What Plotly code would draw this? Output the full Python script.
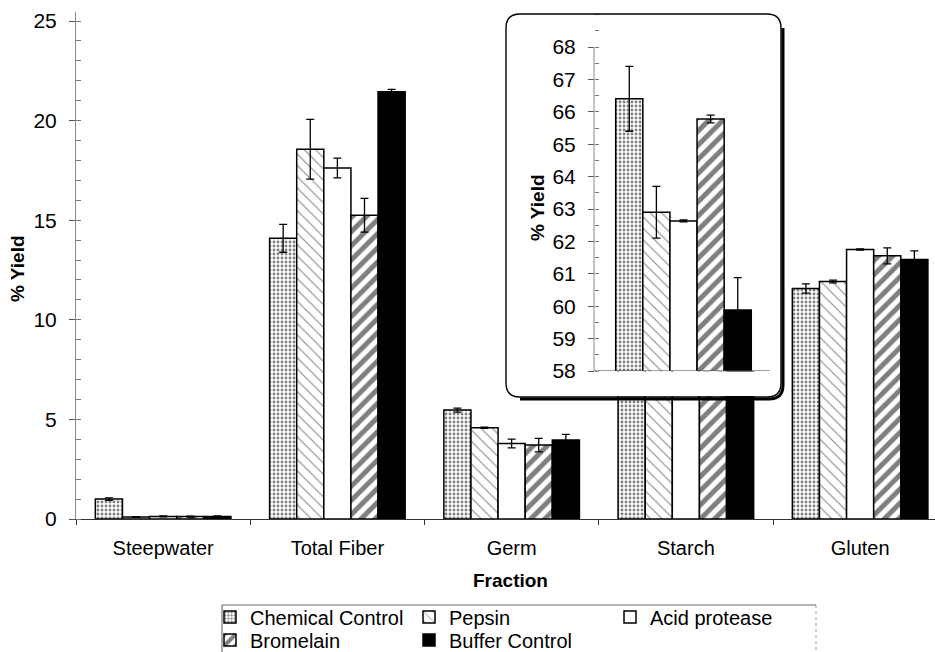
import plotly.graph_objects as go

# ---- data: % yield by fraction and treatment (mean and SD) ----
categories = ["Steepwater", "Total Fiber", "Germ", "Starch", "Gluten"]

chemical_control = [1.00, 14.09, 5.47, 66.40, 11.57]
chemical_control_sd = [0.06, 0.70, 0.10, 1.00, 0.23]

pepsin = [0.10, 18.56, 4.58, 62.90, 11.92]
pepsin_sd = [0.02, 1.50, 0.03, 0.80, 0.07]

acid_protease = [0.13, 17.62, 3.79, 62.63, 13.53]
acid_protease_sd = [0.02, 0.50, 0.22, 0.03, 0.03]

bromelain = [0.12, 15.25, 3.71, 65.78, 13.21]
bromelain_sd = [0.02, 0.85, 0.34, 0.12, 0.40]

buffer_control = [0.13, 21.45, 3.97, 59.88, 13.03]
buffer_control_sd = [0.02, 0.12, 0.28, 1.00, 0.43]

main_ticks = [0, 5, 10, 15, 20, 25]
inset_ticks = [58, 59, 60, 61, 62, 63, 64, 65, 66, 67, 68]

# ---- page geometry ----
W, H = 935, 652
L, R, T, B = 76, 0, 12, 133
FONT = "Arial, Liberation Sans, sans-serif"
MAIN_PX_PER_UNIT = 19.92


def fx(px):
    return (px - L) / (W - L - R)


def fy(py):
    return (H - B - py) / (H - T - B)


series = [
    ("Chemical Control", chemical_control, chemical_control_sd,
     dict(color="white", pattern=dict(shape=".", size=4, solidity=0.4,
                                      fgcolor="black", bgcolor="white"))),
    ("Pepsin", pepsin, pepsin_sd,
     dict(color="white", pattern=dict(shape="\\", size=8, solidity=0.12,
                                      fgcolor="black", bgcolor="white"))),
    ("Acid protease", acid_protease, acid_protease_sd,
     dict(color="white")),
    ("Bromelain", bromelain, bromelain_sd,
     dict(color="white", pattern=dict(shape="/", size=10, solidity=0.5,
                                      fgcolor="black", bgcolor="white"))),
    ("Buffer Control", buffer_control, buffer_control_sd,
     dict(color="black")),
]

# legend slot for each series: (text-start x px, row centre y px)
legend_slots = [(250, 617), (449, 617), (650, 617), (250, 640), (449, 640)]

fig = go.Figure()
starch = categories.index("Starch")

for i, (name, vals, sds, mk) in enumerate(series):
    lg = "legend" if i == 0 else f"legend{i + 1}"
    marker = dict(mk, line=dict(color="black", width=1.5))
    err = dict(type="data", array=sds, visible=True, color="black",
               thickness=1.3, width=4)
    fig.add_trace(go.Bar(
        name=name, x=categories, y=vals, error_y=err, marker=marker,
        xaxis="x", yaxis="y", legend=lg,
    ))
    # enlarged view of the starch fraction
    fig.add_trace(go.Bar(
        name=name, x=[categories[starch]], y=[vals[starch]],
        error_y=dict(err, array=[sds[starch]]), marker=marker,
        xaxis="x2", yaxis="y2", showlegend=False,
    ))

# ---- inset frame geometry (px) ----
bx0, by0, bx1, by1 = 506, 14, 781, 397
inset_axis_x = 594
inset_centre = 683.5
cat_px = 174.25
inset_bottom_px = 371
inset_px_per_unit = 32.4

legends = {}
for i, (tx, ty) in enumerate(legend_slots):
    key = "legend" if i == 0 else f"legend{i + 1}"
    legends[key] = dict(
        x=fx(tx - 40), y=fy(ty), xanchor="left", yanchor="middle",
        orientation="h", bgcolor="rgba(0,0,0,0)", borderwidth=0,
        font=dict(family=FONT, size=20, color="black"),
    )


def path_from(pts):
    s = ""
    for cmd, ps in pts:
        s += cmd + " ".join(f"{fx(a):.5f},{fy(b):.5f}" for a, b in ps)
    return s


def rounded_path(x0, y0, x1, y1, r):
    return path_from([
        ("M", [(x0 + r, y0)]),
        ("L", [(x1 - r, y0)]),
        ("Q", [(x1, y0), (x1, y0 + r)]),
        ("L", [(x1, y1 - r)]),
        ("Q", [(x1, y1), (x1 - r, y1)]),
        ("L", [(x0 + r, y1)]),
        ("Q", [(x0, y1), (x0, y1 - r)]),
        ("L", [(x0, y0 + r)]),
        ("Q", [(x0, y0), (x0 + r, y0)]),
    ]) + "Z"


def shadow_path(x0, y0, x1, y1, r, off):
    return path_from([
        ("M", [(x1 + off, y0 + r)]),
        ("L", [(x1 + off, y1 - r + off)]),
        ("Q", [(x1 + off, y1 + off), (x1 - r + off, y1 + off)]),
        ("L", [(x0 + r, y1 + off)]),
    ])


shapes = [
    # blank strip under the enlarged axis, inside the frame
    dict(type="rect", xref="paper", yref="paper", layer="above",
         x0=fx(inset_axis_x + 3), x1=fx(bx1 - 1),
         y0=fy(by1 - 1), y1=fy(inset_bottom_px + 0.5),
         fillcolor="white", line=dict(width=0)),
    # enlarged-view axis lines
    dict(type="line", xref="paper", yref="y2", layer="above",
         x0=fx(inset_axis_x), x1=fx(inset_axis_x), y0=58, y1=68,
         line=dict(color="#8a8a8a", width=1)),
    dict(type="line", xref="paper", yref="y2", layer="above",
         x0=fx(inset_axis_x), x1=fx(770), y0=58, y1=58,
         line=dict(color="#444", width=1.2)),
    # rounded frame with drop shadow
    dict(type="path", xref="paper", yref="paper", layer="above",
         path=rounded_path(bx0, by0, bx1, by1, 14),
         line=dict(color="black", width=1.4)),
    dict(type="path", xref="paper", yref="paper", layer="above",
         path=shadow_path(bx0, by0, bx1, by1, 14, 2),
         line=dict(color="black", width=3)),
    # legend box
    dict(type="line", xref="paper", yref="paper", layer="above",
         x0=fx(222), x1=fx(222), y0=fy(662), y1=fy(605),
         line=dict(color="#555", width=1)),
    dict(type="line", xref="paper", yref="paper", layer="above",
         x0=fx(222), x1=fx(816), y0=fy(605), y1=fy(605),
         line=dict(color="#666", width=1)),
    dict(type="line", xref="paper", yref="paper", layer="above",
         x0=fx(816), x1=fx(816), y0=fy(662), y1=fy(605),
         line=dict(color="#999", width=1, dash="dot")),
]

title_font = dict(family=FONT, size=19, color="black")
annotations = [
    dict(text="<b>% Yield</b>", xref="paper", yref="paper",
         x=fx(17), y=fy(268), xanchor="center", yanchor="middle",
         textangle=-90, showarrow=False, font=title_font),
    dict(text="<b>Fraction</b>", xref="paper", yref="paper",
         x=fx(510), y=fy(580), xanchor="center", yanchor="middle",
         showarrow=False, font=title_font),
    dict(text="<b>% Yield</b>", xref="paper", yref="paper",
         x=fx(537), y=fy(208), xanchor="center", yanchor="middle",
         textangle=-90, showarrow=False, font=title_font),
]

fig.update_layout(
    width=W, height=H,
    margin=dict(l=L, r=R, t=T, b=B, autoexpand=False),
    paper_bgcolor="white", plot_bgcolor="white",
    barmode="group", bargap=0.222, bargroupgap=0,
    font=dict(family=FONT, color="black"),
    xaxis=dict(
        domain=[0, 1], range=[-0.5, -0.5 + (W - L - R) / cat_px],
        type="category", categoryorder="array", categoryarray=categories,
        showline=True, linecolor="#333", linewidth=1.2,
        ticks="outside", tickson="boundaries", ticklen=5, tickcolor="#333",
        tickfont=dict(family=FONT, size=20, color="black"),
        showgrid=False, zeroline=False, fixedrange=True,
        ticklabelstandoff=11,
    ),
    yaxis=dict(
        domain=[0, 1], range=[0, (H - T - B) / MAIN_PX_PER_UNIT],
        tickvals=main_ticks,
        showline=True, linecolor="#8a8a8a", linewidth=1,
        ticks="outside", ticklen=6, tickcolor="#555",
        minor=dict(ticks="inside", tickvals=list(range(0, 26)), ticklen=5,
                   tickcolor="#777"),
        tickfont=dict(family=FONT, size=21, color="black"),
        showgrid=False, zeroline=False, fixedrange=True,
        ticklabelstandoff=8,
    ),
    xaxis2=dict(
        domain=[fx(bx0), fx(bx1)],
        range=[-(inset_centre - bx0) / cat_px, (bx1 - inset_centre) / cat_px],
        type="category", anchor="y2",
        showline=False, ticks="", showticklabels=False,
        showgrid=False, zeroline=False, fixedrange=True,
    ),
    yaxis2=dict(
        domain=[fy(inset_bottom_px), 1],
        range=[58, 58 + (inset_bottom_px - T) / inset_px_per_unit],
        anchor="free", position=fx(inset_axis_x),
        tickvals=inset_ticks,
        showline=False, ticks="outside", ticklen=6, tickcolor="#555",
        minor=dict(ticks="inside", dtick=0.5, ticklen=4, tickcolor="#777"),
        tickfont=dict(family=FONT, size=21, color="black"),
        showgrid=False, zeroline=False, fixedrange=True,
        ticklabelstandoff=8,
    ),
    shapes=shapes,
    annotations=annotations,
    **legends,
)

fig.write_html("out.html")
